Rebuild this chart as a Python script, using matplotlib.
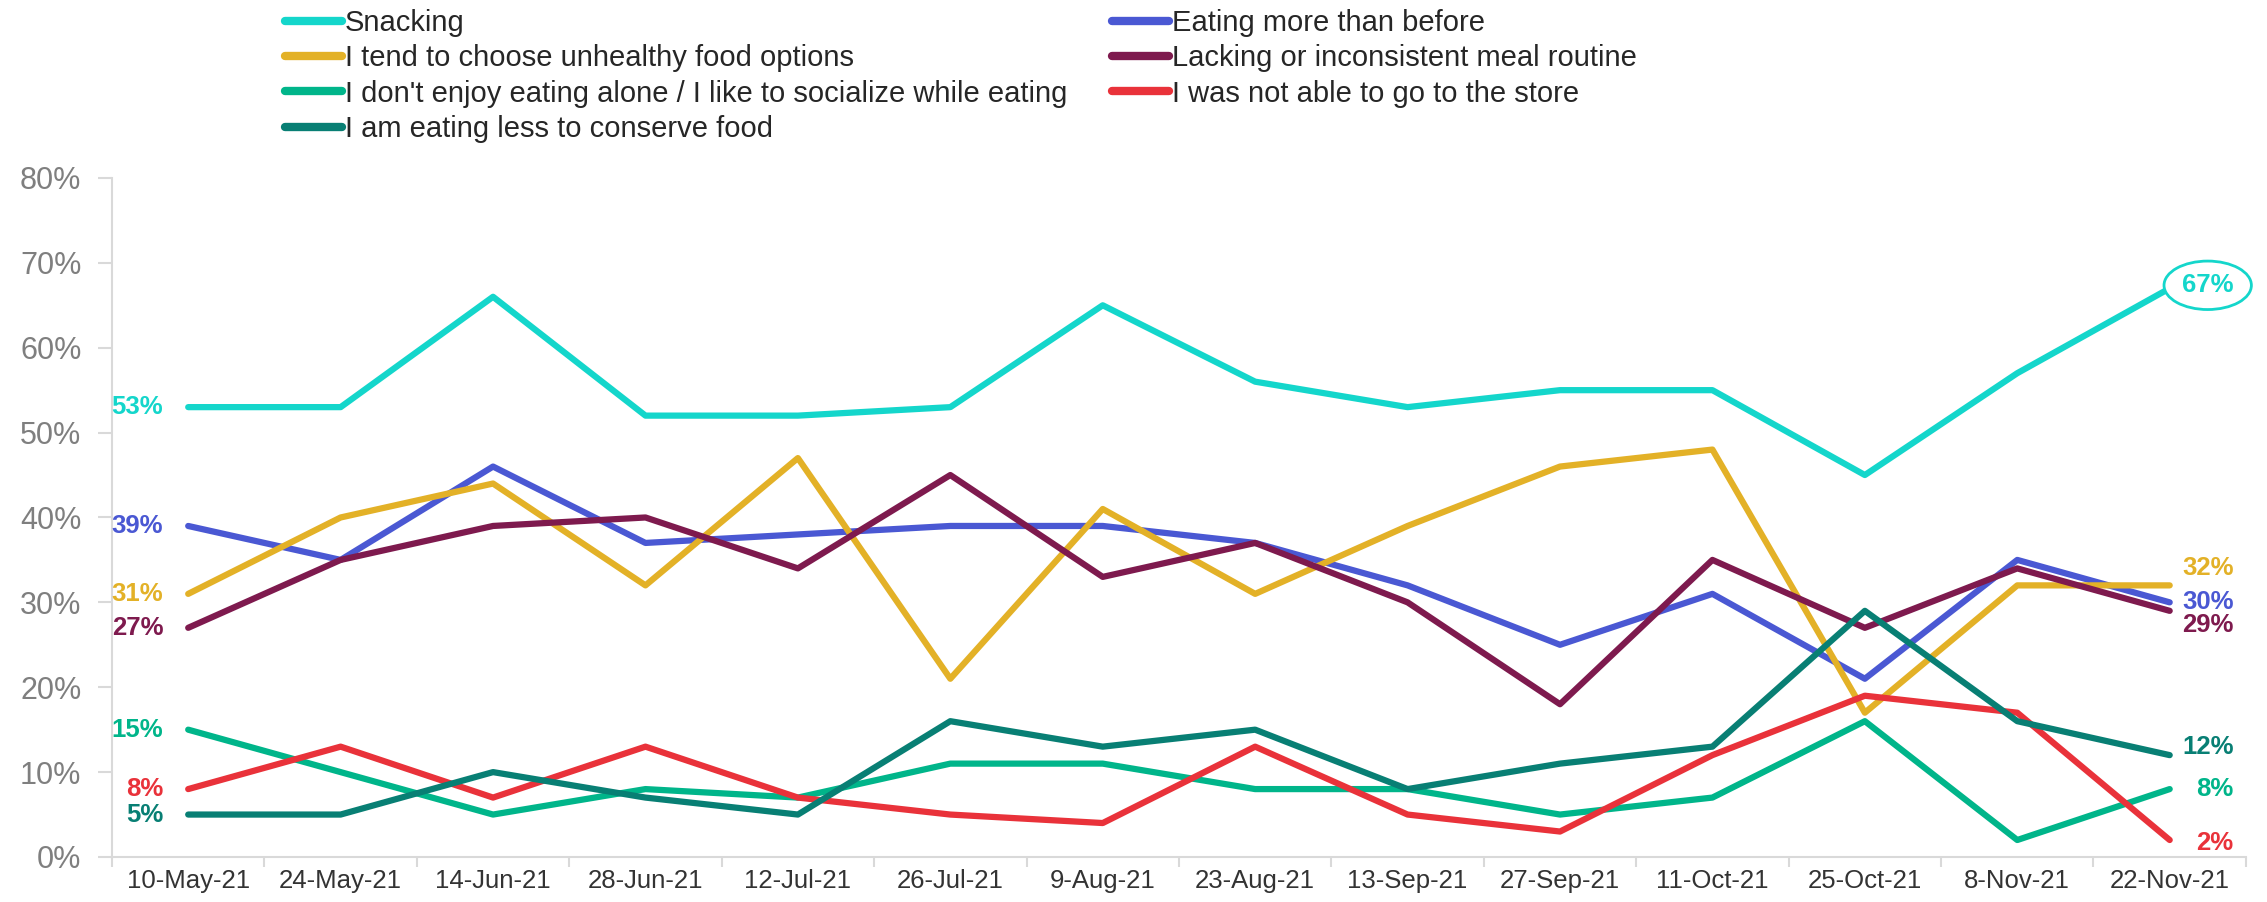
import matplotlib
matplotlib.use("Agg")
import matplotlib.pyplot as plt
from matplotlib.ticker import FixedLocator, PercentFormatter

plt.rcParams['font.family'] = ['Liberation Sans', 'DejaVu Sans']

dates = ["10-May-21", "24-May-21", "14-Jun-21", "28-Jun-21", "12-Jul-21", "26-Jul-21",
         "9-Aug-21", "23-Aug-21", "13-Sep-21", "27-Sep-21", "11-Oct-21", "25-Oct-21",
         "8-Nov-21", "22-Nov-21"]

snacking = [53, 53, 66, 52, 52, 53, 65, 56, 53, 55, 55, 45, 57, 67]
eating_more = [39, 35, 46, 37, 38, 39, 39, 37, 32, 25, 31, 21, 35, 30]
unhealthy = [31, 40, 44, 32, 47, 21, 41, 31, 39, 46, 48, 17, 32, 32]
no_routine = [27, 35, 39, 40, 34, 45, 33, 37, 30, 18, 35, 27, 34, 29]
not_alone = [15, 10, 5, 8, 7, 11, 11, 8, 8, 5, 7, 16, 2, 8]
no_store = [8, 13, 7, 13, 7, 5, 4, 13, 5, 3, 12, 19, 17, 2]
eating_less = [5, 5, 10, 7, 5, 16, 13, 15, 8, 11, 13, 29, 16, 12]

names = ["Snacking", "Eating more than before", "I tend to choose unhealthy food options",
         "Lacking or inconsistent meal routine",
         "I don't enjoy eating alone / I like to socialize while eating",
         "I was not able to go to the store", "I am eating less to conserve food"]
series = [snacking, eating_more, unhealthy, no_routine, not_alone, no_store, eating_less]
colors = ["#14d6cb", "#4a58d3", "#e3b127", "#7e1a4e", "#00b58a", "#e9323a", "#087f74"]

# label offsets in pixels (left label dy, right label dy)
left_dy = [0, 0, 0, 0, 0, 0, 0]
right_dy = [0, 0, -17, 14, 0, 3, -8]

fig = plt.figure(figsize=(22.67, 9.02), dpi=100)
ax = fig.add_axes([0.0494, 0.0499, 0.9413, 0.7528])

x = list(range(len(dates)))
handles = []
for i in range(len(series)):
    vals = [v / 100 for v in series[i]]
    h, = ax.plot(x, vals, color=colors[i], lw=4.5, solid_joinstyle='round',
                 solid_capstyle='round', label=names[i])
    handles.append(h)
    ax.annotate(f"{series[i][0]}%", (x[0], vals[0]), xytext=(-25, -left_dy[i]),
                textcoords='offset pixels', ha='right', va='center',
                fontsize=18.5, fontweight='bold', color=colors[i])
    if i == 0:
        ax.annotate(f"{series[i][-1]}%", (x[-1], vals[-1]), xytext=(38, 3),
                    textcoords='offset pixels', ha='center', va='center',
                    fontsize=18.5, fontweight='bold', color=colors[i],
                    bbox=dict(boxstyle='ellipse,pad=0.2', fc='white', ec=colors[i], lw=2))
    else:
        ax.annotate(f"{series[i][-1]}%", (x[-1], vals[-1]), xytext=(64, -right_dy[i]),
                    textcoords='offset pixels', ha='right', va='center',
                    fontsize=18.5, fontweight='bold', color=colors[i])

ax.set_xlim(-0.5, len(dates) - 0.5)
ax.set_ylim(0, 0.8)
ax.set_yticks([i / 10 for i in range(9)])
ax.yaxis.set_major_formatter(PercentFormatter(1.0, decimals=0))
ax.set_xticks(x)
ax.set_xticklabels(dates)
ax.xaxis.set_minor_locator(FixedLocator([i - 0.5 for i in range(len(dates) + 1)]))

for s in ['top', 'right']:
    ax.spines[s].set_visible(False)
for s in ['left', 'bottom']:
    ax.spines[s].set_color('#d9d9d9')
    ax.spines[s].set_linewidth(1.5)

ax.tick_params(axis='y', length=10, width=1.5, color='#d9d9d9', pad=12,
               labelsize=22, labelcolor='#7f7f7f')
ax.tick_params(axis='x', which='major', length=0, pad=9, labelsize=18.5, labelcolor='#333333')
ax.tick_params(axis='x', which='minor', length=7, width=1.5, color='#d9d9d9')

order = [0, 2, 4, 6, 1, 3, 5]
leg = fig.legend([handles[i] for i in order], [names[i] for i in order],
                 loc='upper left', bbox_to_anchor=(0.1257, 0.990), ncol=2,
                 frameon=False, fontsize=21, borderpad=0, borderaxespad=0,
                 handlelength=1.95, handletextpad=0.1, columnspacing=1.55,
                 labelspacing=0.25)
for t in leg.get_texts():
    t.set_color('#262626')
for l in leg.get_lines():
    l.set_linewidth(6)

fig.savefig("out.png", dpi=100)
